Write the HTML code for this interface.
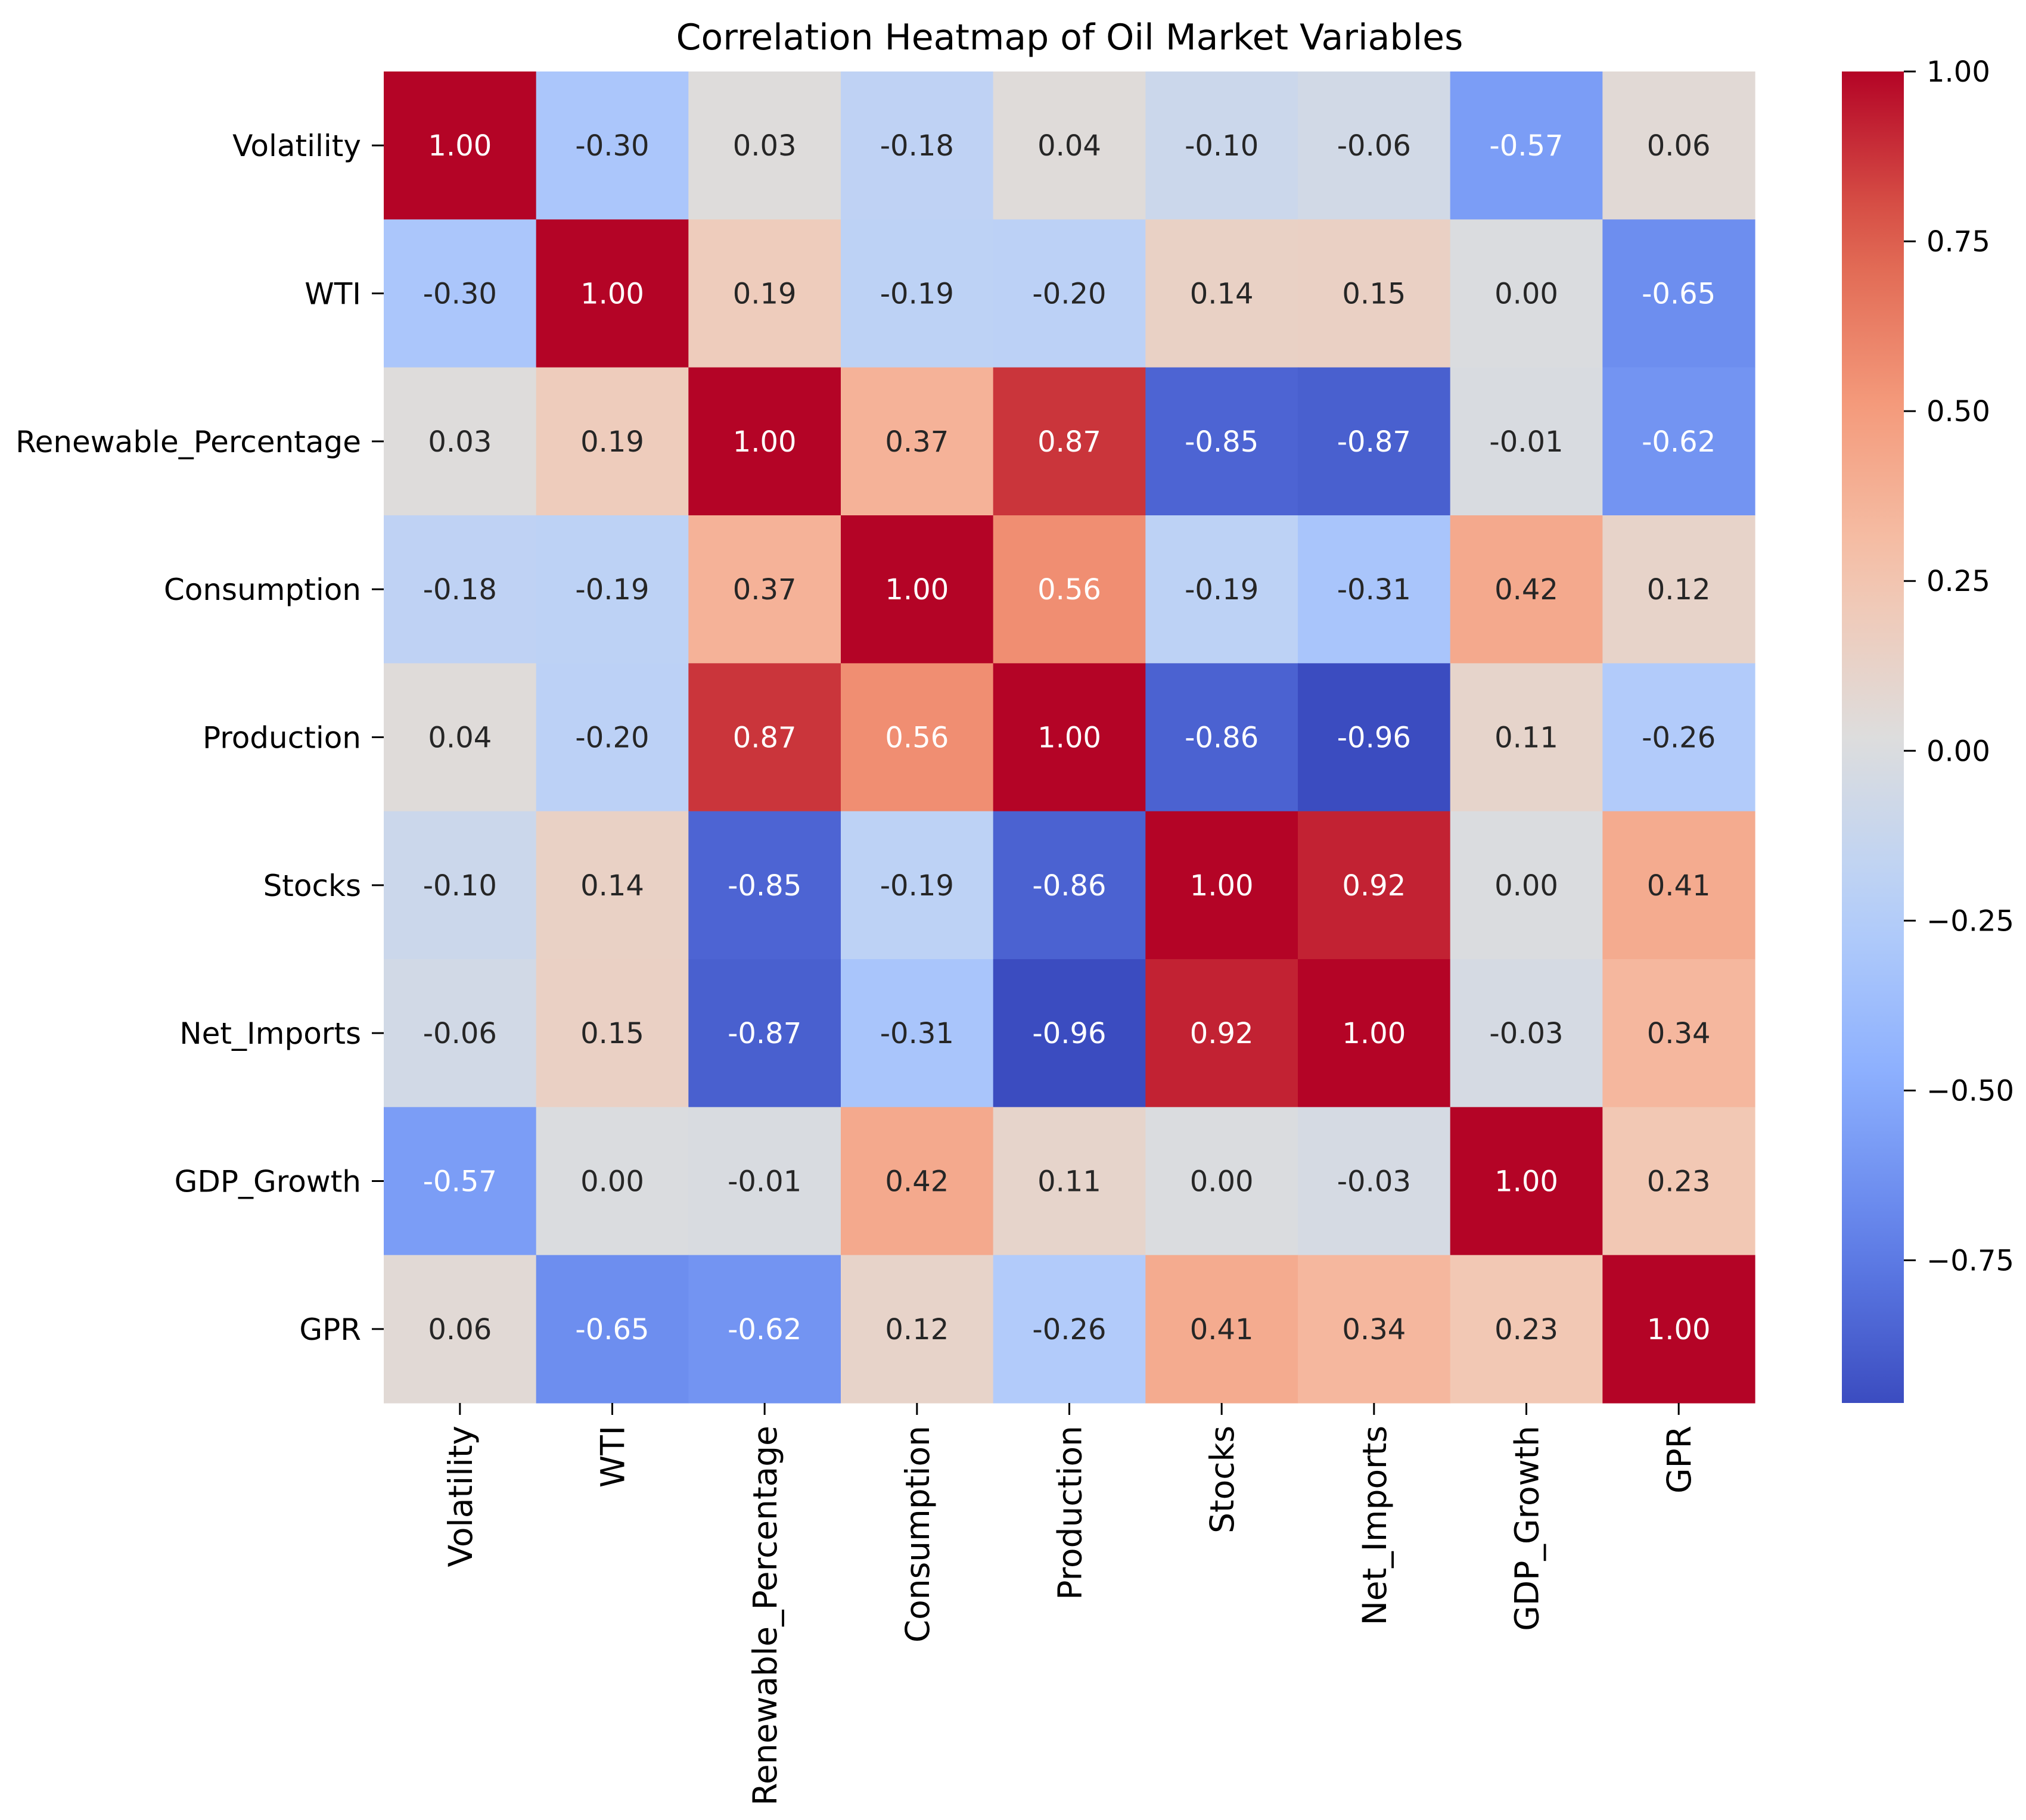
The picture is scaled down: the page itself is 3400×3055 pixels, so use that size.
<!DOCTYPE html>
<html><head><meta charset="utf-8"><style>
html,body{margin:0;padding:0;background:#fff;}
svg{display:block;font-family:"DejaVu Sans","Liberation Sans",sans-serif;}
</style></head><body>
<svg id="chart" width="3400" height="3055" viewBox="0 0 3400 3055" xmlns="http://www.w3.org/2000/svg">
<rect width="3400" height="3055" fill="#fff"/>
<text x="1795" y="83" font-size="60" text-anchor="middle" fill="#000">Correlation Heatmap of Oil Market Variables</text>
<defs><linearGradient id="cbgrad" x1="0" y1="1" x2="0" y2="0"></linearGradient></defs>
<g id="cells"></g>
<g id="yaxis"></g>
<g id="xaxis"></g>
<g id="cbar"></g>
</svg>
<script>
const variables = ["Volatility","WTI","Renewable_Percentage","Consumption","Production","Stocks","Net_Imports","GDP_Growth","GPR"];
const corrRow0 = [1.00,-0.30,0.03,-0.18,0.04,-0.10,-0.06,-0.57,0.06];
const corrRow1 = [-0.30,1.00,0.19,-0.19,-0.20,0.14,0.15,0.00,-0.65];
const corrRow2 = [0.03,0.19,1.00,0.37,0.87,-0.85,-0.87,-0.01,-0.62];
const corrRow3 = [-0.18,-0.19,0.37,1.00,0.56,-0.19,-0.31,0.42,0.12];
const corrRow4 = [0.04,-0.20,0.87,0.56,1.00,-0.86,-0.96,0.11,-0.26];
const corrRow5 = [-0.10,0.14,-0.85,-0.19,-0.86,1.00,0.92,0.00,0.41];
const corrRow6 = [-0.06,0.15,-0.87,-0.31,-0.96,0.92,1.00,-0.03,0.34];
const corrRow7 = [-0.57,0.00,-0.01,0.42,0.11,0.00,-0.03,1.00,0.23];
const corrRow8 = [0.06,-0.65,-0.62,0.12,-0.26,0.41,0.34,0.23,1.00];
const colorbarTicks = [1.00,0.75,0.50,0.25,0.00,-0.25,-0.50,-0.75];
const colorMin = -0.96, colorMax = 1.00;

const matrix = [corrRow0,corrRow1,corrRow2,corrRow3,corrRow4,corrRow5,corrRow6,corrRow7,corrRow8];
const NS = "http://www.w3.org/2000/svg";
const L = 644, R = 2945, T = 120, B = 2355;
const n = variables.length;
const cw = (R - L) / n, ch = (B - T) / n;
const xPos = i => L + i * cw;
const yPos = i => T + i * ch;
const cmapStops = [[59,76,192],[98,130,234],[141,176,254],[184,208,249],[221,221,221],[245,196,173],[244,154,123],[222,96,77],[180,4,38]];
function cmap(t){
  t = Math.max(0, Math.min(1, t));
  const p = t * 8, i = Math.min(7, Math.floor(p)), f = p - i;
  const a = cmapStops[i], b = cmapStops[i+1];
  return [0,1,2].map(k => Math.round(a[k] + (b[k]-a[k]) * f));
}
const norm = v => (v - colorMin) / (colorMax - colorMin);
function mk(tag, attrs, parent){
  const e = document.createElementNS(NS, tag);
  for (const k in attrs) e.setAttribute(k, attrs[k]);
  parent.appendChild(e);
  return e;
}
function lum(c){
  const f = x => { x /= 255; return x <= 0.03928 ? x/12.92 : Math.pow((x+0.055)/1.055, 2.4); };
  return 0.2126*f(c[0]) + 0.7152*f(c[1]) + 0.0722*f(c[2]);
}
const cells = document.getElementById('cells');
for (let r = 0; r < n; r++) for (let c = 0; c < n; c++) {
  const v = matrix[r][c];
  const col = cmap(norm(v));
  const rect = mk('rect', {x: xPos(c), y: yPos(r), width: cw + 0.6, height: ch + 0.6, fill: `rgb(${col})`}, cells);
  
  
  const t = mk('text', {x: xPos(c) + cw/2, y: yPos(r) + ch/2 + 17, 'font-size': 48, 'text-anchor': 'middle', fill: lum(col) > 0.408 ? '#262626' : '#fff'}, cells);
  t.textContent = v.toFixed(2);
  
  
}
const yaxis = document.getElementById('yaxis');
const xaxis = document.getElementById('xaxis');
for (let i = 0; i < n; i++) {
  const yc = yPos(i) + ch/2;
  mk('line', {x1: L - 20, x2: L, y1: yc, y2: yc, stroke: '#000', 'stroke-width': 3}, yaxis);
  const yl = mk('text', {x: L - 38, y: yc + 18, 'font-size': 50, 'text-anchor': 'end', fill: '#000'}, yaxis);
  yl.textContent = variables[i];
  
  
  const xc = xPos(i) + cw/2;
  mk('line', {x1: xc, x2: xc, y1: B, y2: B + 20, stroke: '#000', 'stroke-width': 3}, xaxis);
  const xl = mk('text', {x: 0, y: 0, 'font-size': 55, 'text-anchor': 'end', fill: '#000', transform: `translate(${xc + 20},${B + 38}) rotate(-90)`}, xaxis);
  xl.textContent = variables[i];
  
  
}
const grad = document.getElementById('cbgrad');
for (let k = 0; k <= 20; k++) {
  const col = cmap(k/20);
  mk('stop', {offset: (k/20), 'stop-color': `rgb(${col})`}, grad);
}
const cbar = document.getElementById('cbar');
const CL = 3091, CR = 3195;
const cbY = v => B - (v - colorMin) / (colorMax - colorMin) * (B - T);
const cbRect = mk('rect', {x: CL, y: T, width: CR - CL, height: B - T, fill: 'url(#cbgrad)'}, cbar);


colorbarTicks.forEach(v => {
  const y = cbY(v);
  mk('line', {x1: CR, x2: CR + 20, y1: y, y2: y, stroke: '#000', 'stroke-width': 3}, cbar);
  const t = mk('text', {x: CR + 38, y: y + 17, 'font-size': 48, fill: '#000'}, cbar);
  t.textContent = v < 0 ? '\u2212' + Math.abs(v).toFixed(2) : v.toFixed(2);
  
  
});
</script>
</body></html>
